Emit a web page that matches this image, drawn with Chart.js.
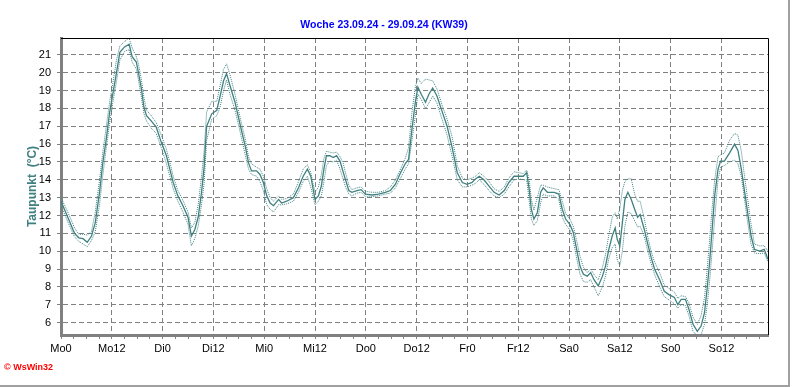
<!DOCTYPE html>
<html>
<head>
<meta charset="utf-8">
<script src="https://cdn.jsdelivr.net/npm/chart.js@4"></script>
<style>
  body { margin: 0; background: #fff; }
  canvas { display: block; }
</style>
</head>
<body>
<canvas id="dewChart" width="792" height="387"></canvas>
<script>
// Stunden seit Mo 0:00
const hours = [0, 1.6, 3.2, 4.2, 5.2, 6.2, 7.2, 8.1, 9.1, 9.9, 10.7, 11.5, 12.3, 13.1, 13.9, 15.0, 16.1, 16.8, 17.8, 18.3,
  19.0, 19.6, 20.2, 21.3, 22.5, 23.7, 24.9, 25.7, 26.5, 27.6, 28.8, 30.0, 30.8, 31.6, 32.4, 33.2, 33.8, 34.4, 35.6, 36.8,
  37.6, 38.4, 39.1, 39.9, 41.1, 42.3, 43.5, 44.3, 45.0, 46.2, 47.0, 47.8, 48.6, 49.4, 50.2, 51.4, 52.1, 53.3, 54.9, 56.1,
  57.2, 58.2, 59.0, 60.0, 60.8, 61.5, 62.1, 62.7, 63.5, 64.3, 65.1, 65.9, 66.7, 67.2, 68.0, 68.7, 69.9, 70.9, 71.9, 73.5,
  75.0, 76.6, 77.8, 79.0, 80.2, 81.3, 82.1, 82.9, 83.7, 84.3, 85.1, 86.1, 86.9, 87.8, 88.8, 90.0, 91.2, 92.4, 93.6, 94.8,
  95.9, 97.1, 97.9, 98.8, 99.9, 101.1, 102.3, 103.5, 104.7, 105.8, 107.0, 108.2, 109.2, 110.0, 110.6, 111.1, 111.7, 112.5, 113.3, 113.9,
  114.9, 116.5, 117.6, 118.4, 119.2, 120.2, 121.0, 121.8, 122.6, 123.4, 124.3, 125.1, 125.9, 126.9, 127.9, 128.6, 129.4, 130.2, 130.9, 131.4,
  132.0, 132.6, 133.2, 133.9, 134.7, 135.5, 136.2, 136.8, 137.8, 138.6, 139.4, 140.2, 141.4, 142.5, 143.7, 144.9, 145.7, 146.5, 147.5, 148.3,
  149.3, 150.3, 151.2, 152.0, 152.6, 153.2, 153.8, 154.4, 155.2, 155.8, 156.7, 157.9, 159.1, 159.9, 160.7, 161.4, 162.2, 163.0, 163.8, 165.0,
  166.1, 167.0];

// Taupunkt (Mittel)
const dewPoint = [12.8, 11.9, 11.0, 10.75, 10.7, 10.5, 10.85, 11.6, 13.3, 15.0, 16.3, 17.8, 18.9, 20.0, 21.15, 21.45, 21.6, 20.9, 20.6, 20.0,
  19.1, 18.05, 17.6, 17.3, 16.95, 16.1, 15.35, 14.6, 13.85, 13.1, 12.55, 11.9, 10.85, 11.2, 11.9, 13.3, 14.7, 17.0, 17.7, 17.9,
  18.7, 19.55, 19.95, 19.3, 18.35, 17.1, 15.9, 14.95, 14.5, 14.5, 14.3, 13.85, 13.1, 12.7, 12.55, 12.9, 12.7, 12.8, 13.0, 13.55,
  14.2, 14.6, 14.2, 12.9, 13.1, 13.65, 14.6, 15.35, 15.35, 15.25, 15.35, 15.05, 14.4, 14.0, 13.4, 13.3, 13.4, 13.45, 13.2, 13.15,
  13.2, 13.3, 13.4, 13.75, 14.4, 14.9, 15.15, 16.85, 18.35, 19.2, 18.8, 18.35, 18.8, 19.15, 18.7, 17.85, 17.0, 15.8, 14.4, 13.85,
  13.75, 13.85, 14.05, 14.2, 14.0, 13.65, 13.3, 13.15, 13.4, 13.85, 14.2, 14.2, 14.2, 14.4, 13.45, 12.35, 11.8, 12.15, 13.3, 13.55,
  13.3, 13.3, 13.2, 12.35, 11.8, 11.5, 11.05, 10.1, 9.15, 8.7, 8.6, 8.8, 8.4, 8.05, 8.6, 9.15, 10.1, 10.85, 11.3, 10.65,
  10.3, 11.6, 12.9, 13.3, 12.9, 12.35, 11.9, 12.05, 11.2, 10.4, 9.65, 9.0, 8.4, 7.75, 7.55, 7.4, 7.0, 7.3, 7.3, 6.75,
  5.9, 5.5, 5.8, 6.55, 7.85, 9.35, 11.2, 13.1, 14.6, 15.05, 15.05, 15.5, 16.0, 15.65, 14.6, 13.45, 12.15, 10.85, 10.1, 10.0,
  10.1, 9.55];

// Taupunkt (Maximum)
const dewMax = [13.0, 12.2, 11.3, 10.95, 10.95, 10.9, 11.1, 12.2, 14.0, 15.6, 17.0, 18.4, 19.5, 20.7, 21.5, 21.75, 21.95, 21.4, 20.9, 20.5,
  19.6, 18.6, 17.9, 17.6, 17.2, 16.5, 15.7, 15.0, 14.2, 13.4, 12.85, 12.2, 11.3, 11.6, 12.6, 14.2, 15.6, 17.8, 18.4, 18.4,
  19.3, 20.2, 20.5, 19.9, 18.8, 17.5, 16.3, 15.3, 14.9, 14.7, 14.6, 14.2, 13.5, 13.0, 12.8, 13.1, 12.9, 12.95, 13.2, 13.9,
  14.6, 14.85, 14.4, 13.3, 13.6, 14.3, 15.2, 15.6, 15.55, 15.5, 15.55, 15.3, 14.9, 14.4, 13.7, 13.45, 13.55, 13.6, 13.35, 13.3,
  13.3, 13.4, 13.6, 14.0, 14.6, 15.2, 15.8, 17.8, 19.2, 19.7, 19.4, 19.65, 19.6, 19.55, 19.1, 18.2, 17.4, 16.4, 14.8, 14.1,
  14.0, 14.1, 14.2, 14.4, 14.2, 13.9, 13.5, 13.35, 13.6, 14.1, 14.45, 14.4, 14.35, 14.55, 14.0, 12.9, 12.3, 13.0, 13.7, 13.7,
  13.6, 13.5, 13.45, 12.8, 12.1, 11.8, 11.4, 10.6, 9.7, 9.1, 8.8, 9.0, 8.7, 8.4, 9.1, 9.8, 10.9, 11.9, 12.15, 11.8,
  12.4, 13.4, 13.9, 14.05, 14.05, 13.2, 12.8, 12.8, 11.8, 10.8, 10.0, 9.4, 8.8, 8.1, 7.9, 7.7, 7.35, 7.5, 7.45, 7.1,
  6.3, 5.9, 6.4, 7.4, 8.9, 10.6, 12.4, 14.0, 15.3, 15.4, 15.5, 16.2, 16.6, 16.5, 15.6, 14.3, 12.9, 11.5, 10.4, 10.3,
  10.3, 10.0];

// Taupunkt (Minimum)
const dewMin = [12.55, 11.65, 10.8, 10.55, 10.4, 10.25, 10.6, 11.1, 12.6, 14.3, 15.8, 17.2, 18.4, 19.5, 20.7, 21.2, 21.3, 20.6, 20.2, 19.6,
  18.6, 17.7, 17.3, 16.9, 16.6, 15.8, 14.9, 14.2, 13.5, 12.8, 12.2, 11.5, 10.3, 10.7, 11.4, 12.6, 13.8, 16.2, 17.4, 17.6,
  18.1, 19.0, 19.6, 18.8, 17.9, 16.7, 15.4, 14.6, 14.3, 14.2, 13.9, 13.4, 12.6, 12.35, 12.2, 12.6, 12.6, 12.65, 12.8, 13.3,
  13.9, 14.2, 13.6, 12.6, 12.8, 13.1, 13.9, 14.8, 15.05, 15.0, 15.1, 14.6, 14.0, 13.6, 13.2, 13.1, 13.25, 13.3, 13.05, 13.05,
  13.1, 13.2, 13.25, 13.55, 14.1, 14.6, 14.9, 16.2, 17.6, 18.8, 18.5, 18.0, 18.3, 18.7, 18.3, 17.4, 16.5, 15.3, 14.0, 13.6,
  13.6, 13.7, 13.8, 14.0, 13.75, 13.4, 13.1, 13.0, 13.2, 13.6, 14.0, 14.05, 14.0, 14.0, 12.8, 11.8, 11.45, 11.7, 12.7, 13.2,
  13.1, 13.1, 12.9, 11.9, 11.5, 11.2, 10.6, 9.6, 8.7, 8.3, 8.25, 8.4, 8.0, 7.5, 8.0, 8.6, 9.6, 10.2, 10.4, 9.5,
  9.2, 10.0, 11.4, 12.2, 12.1, 11.7, 11.35, 11.4, 10.8, 10.0, 9.3, 8.7, 8.0, 7.45, 7.25, 7.05, 6.8, 7.0, 6.95, 6.4,
  5.5, 5.25, 5.3, 5.9, 6.9, 8.3, 10.0, 11.8, 14.0, 14.7, 14.8, 15.0, 15.1, 14.9, 14.2, 13.0, 11.6, 10.4, 9.9, 9.85,
  9.9, 9.4];

const xTickLabels = ['Mo0', 'Mo12', 'Di0', 'Di12', 'Mi0', 'Mi12', 'Do0', 'Do12', 'Fr0', 'Fr12', 'Sa0', 'Sa12', 'So0', 'So12'];
const yTicks = [6, 7, 8, 9, 10, 11, 12, 13, 14, 15, 16, 17, 18, 19, 20, 21];

const FONT = "'Liberation Sans', Arial, sans-serif";
const TEAL = '#408080';
const GRID = '#808080';

function toPoints(values) {
    return hours.map((h, i) => ({ x: h, y: values[i] }));
}

// Rahmen, Copyright usw.
const framePlugin = {
    id: 'frame',
    afterDraw(chart) {
        const ctx = chart.ctx;
        const a = chart.chartArea;
        ctx.save();
        ctx.strokeStyle = '#000';
        ctx.lineWidth = 1;
        ctx.beginPath();
        ctx.moveTo(a.left, a.top + 0.5);
        ctx.lineTo(a.right + 0.5, a.top + 0.5);
        ctx.lineTo(a.right + 0.5, a.bottom);
        ctx.stroke();
        // äußerer Rand
        ctx.fillStyle = '#a0a0a0';
        ctx.fillRect(788, 0, 2, 387);
        ctx.fillRect(0, 385, 790, 2);
        // Copyright
        ctx.fillStyle = '#ff0000';
        ctx.font = 'bold 9px ' + FONT;
        ctx.textBaseline = 'middle';
        ctx.fillText('\u00a9 WsWin32', 4, 368);
        ctx.restore();
    }
};

new Chart(document.getElementById('dewChart').getContext('2d'), {
    type: 'line',
    data: {
        datasets: [
            {
                label: 'Taupunkt max',
                data: toPoints(dewMax),
                borderColor: TEAL,
                borderWidth: 1,
                borderDash: [1, 1],
                pointRadius: 0,
                tension: 0
            },
            {
                label: 'Taupunkt min',
                data: toPoints(dewMin),
                borderColor: TEAL,
                borderWidth: 1,
                borderDash: [1, 1],
                pointRadius: 0,
                tension: 0
            },
            {
                label: 'Taupunkt',
                data: toPoints(dewPoint),
                borderColor: TEAL,
                borderWidth: 1.3,
                pointRadius: 0,
                tension: 0
            }
        ]
    },
    options: {
        responsive: false,
        animation: false,
        devicePixelRatio: 1,
        layout: { padding: { left: 0, right: 24, top: 0, bottom: 0 } },
        plugins: {
            legend: { display: false },
            tooltip: { enabled: false },
            title: {
                display: true,
                text: 'Woche 23.09.24 - 29.09.24 (KW39)',
                color: '#0000ff',
                font: { family: FONT, size: 10.5, weight: 'bold' },
                padding: { top: 19, bottom: 6.4 }
            }
        },
        scales: {
            x: {
                type: 'linear',
                min: 0,
                max: 167,
                afterFit(scale) { scale.height = 52; },
                ticks: {
                    stepSize: 3,
                    includeBounds: false,
                    autoSkip: false,
                    maxRotation: 0,
                    padding: 3,
                    color: '#000',
                    font: { family: FONT, size: 11 },
                    callback(value) {
                        return value % 12 === 0 ? xTickLabels[value / 12] : '';
                    }
                },
                grid: {
                    color: (c) => (c.tick && c.tick.value % 12 === 0) ? GRID : 'rgba(0,0,0,0)',
                    tickColor: GRID,
                    tickLength: 4,
                    lineWidth: 1
                },
                border: { color: GRID, width: 3, dash: [5, 3] }
            },
            y: {
                min: 5.3,
                max: 21.95,
                afterFit(scale) { scale.width = 61; },
                afterBuildTicks(scale) {
                    scale.ticks = yTicks.map(v => ({ value: v }));
                },
                ticks: {
                    padding: 6,
                    color: '#000',
                    font: { family: FONT, size: 11 }
                },
                grid: {
                    color: GRID,
                    tickColor: GRID,
                    tickLength: 4,
                    lineWidth: 1
                },
                border: { color: GRID, width: 3, dash: [5, 3] },
                title: {
                    display: true,
                    text: 'Taupunkt  (°C)',
                    color: '#3f8080',
                    font: { family: FONT, size: 12, weight: 'bold' },
                    padding: { top: 25, bottom: 0 }
                }
            }
        }
    },
    plugins: [framePlugin]
});
</script>
</body>
</html>
